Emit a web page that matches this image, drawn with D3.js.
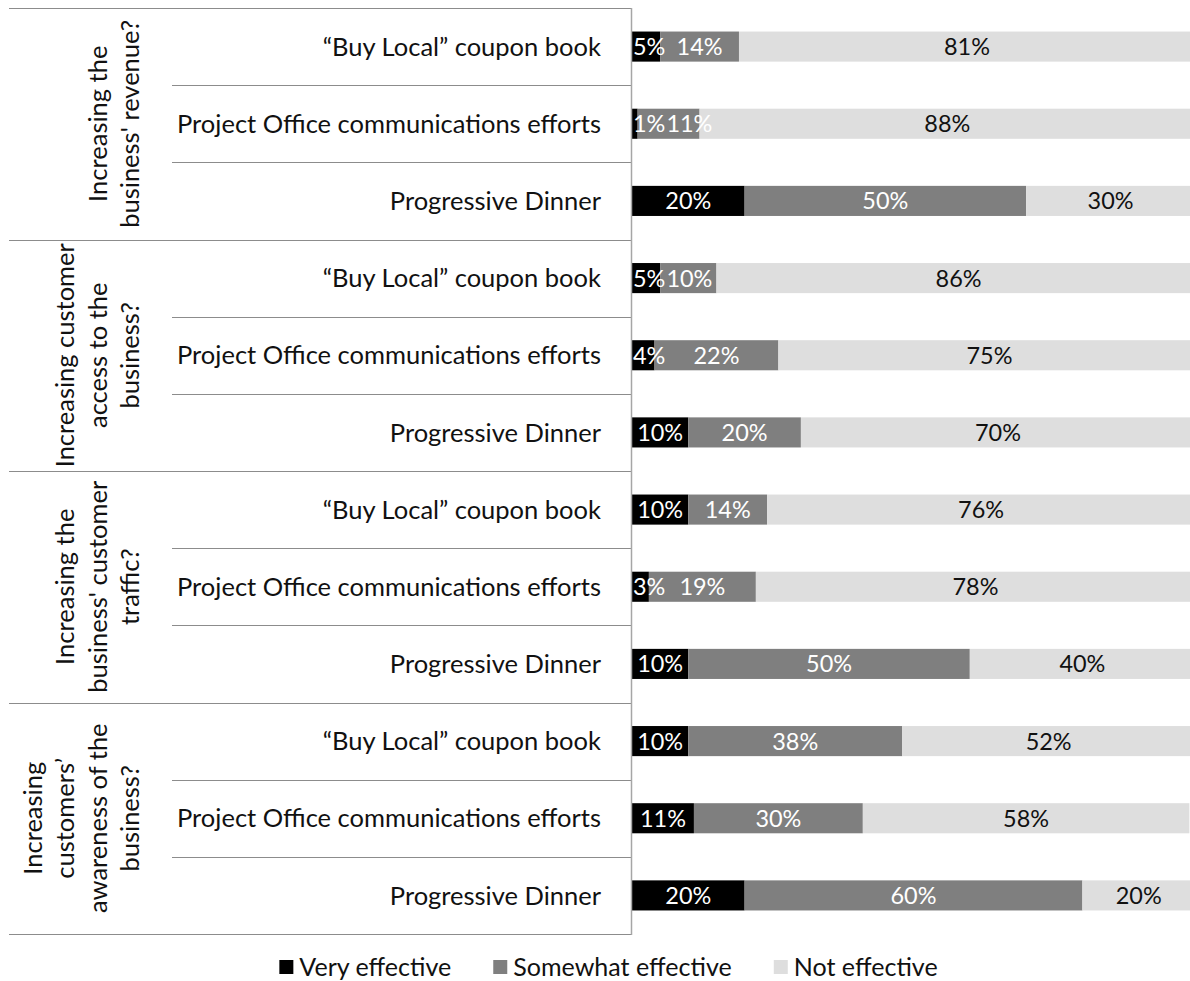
<!DOCTYPE html>
<html>
<head>
<meta charset="utf-8">
<script src="https://cdn.jsdelivr.net/npm/d3@7"></script>
<style>
  html, body { margin: 0; padding: 0; background: #fff; }
  svg { display: block; }
  text { font-family: Lato, "Noto Sans", sans-serif; }
</style>
</head>
<body>
<svg id="chart" width="1190" height="981"></svg>
<script>
// ---- Data ----
const groups = [
  ["Increasing the", "business' revenue?"],
  ["Increasing customer", "access to the", "business?"],
  ["Increasing the", "business' customer", "traffic?"],
  ["Increasing", "customers\u2019", "awareness of the", "business?"]
];
const items = ["\u201cBuy Local\u201d coupon book", "Project Office communications efforts", "Progressive Dinner"];
const seriesNames = ["Very effective", "Somewhat effective", "Not effective"];
const seriesColors = ["#000000", "#7f7f7f", "#dedede"];
const labelColors = ["#ffffff", "#ffffff", "#111111"];
// values per group, per item: [very, somewhat, not]
const veryEffective = [
  [5, 1, 20],
  [5, 4, 10],
  [10, 3, 10],
  [10, 11, 20]
];
const somewhatEffective = [
  [14, 11, 50],
  [10, 22, 20],
  [14, 19, 50],
  [38, 30, 60]
];
const notEffective = [
  [81, 88, 30],
  [86, 75, 70],
  [76, 78, 40],
  [52, 58, 20]
];

// ---- Build rows ----
const rows = [];
groups.forEach((g, gi) => {
  items.forEach((it, ii) => {
    rows.push({
      id: gi + "-" + ii, group: gi, item: it,
      vals: [veryEffective[gi][ii], somewhatEffective[gi][ii], notEffective[gi][ii]]
    });
  });
});

const svg = d3.select("#chart");

// ---- font sizing helper: match target widths ----
function fitSize(str, target) {
  const t = svg.append("text").attr("font-size", 100).text(str);
  const w = t.node().getComputedTextLength();
  t.remove();
  return 100 * target / w;
}
const rowFont = fitSize("Project Office communications efforts", 424);
const valFont = fitSize("81%", 46);
const legFont = fitSize("Very effective", 152);

// ---- Layout ----
const plotTop = 8, plotBottom = 934;
const axisX = 631;
const xScale = d3.scaleLinear().domain([0, 100]).range([632, 1195]);
const yScale = d3.scaleBand().domain(rows.map(r => r.id)).range([plotTop, plotBottom])
  .paddingInner(0.61).paddingOuter(0.305);
const step = yScale.step();
const groupH = step * items.length;

// ---- clip ----
svg.append("defs").append("clipPath").attr("id", "plotclip")
  .append("rect").attr("x", 632).attr("y", 0).attr("width", 600).attr("height", 981);

// ---- Stacked bars ----
const stackData = rows.map(r => ({ id: r.id, s0: r.vals[0], s1: r.vals[1], s2: r.vals[2] }));
const stack = d3.stack().keys(["s0", "s1", "s2"]);
const layers = stack(stackData);

const plot = svg.append("g").attr("clip-path", "url(#plotclip)");
layers.forEach((layer, li) => {
  plot.append("g").selectAll("rect").data(layer).join("rect")
    .attr("x", d => xScale(d[0]))
    .attr("y", d => yScale(d.data.id))
    .attr("width", d => xScale(d[1]) - xScale(d[0]))
    .attr("height", yScale.bandwidth())
    .attr("fill", seriesColors[li]);
});

// value labels: centred in segment, kept inside plot and not overlapping the previous label
const labelG = svg.append("g");
rows.forEach((r, ri) => {
  let prevRight = axisX + 1;
  layers.forEach((layer, li) => {
    const d = layer[ri];
    const t = labelG.append("text")
      .attr("y", yScale(r.id) + yScale.bandwidth() / 2)
      .attr("dy", "0.36em")
      .attr("text-anchor", "middle")
      .attr("font-size", valFont)
      .attr("fill", labelColors[li])
      .text((d[1] - d[0]) + "%");
    const w = t.node().getComputedTextLength();
    let cx = (xScale(d[0]) + xScale(d[1])) / 2;
    if (cx - w / 2 < prevRight + 1) cx = prevRight + 1 + w / 2;
    t.attr("x", cx);
    prevRight = cx + w / 2;
  });
});

// ---- Category structure lines ----
const lines = svg.append("g");
d3.range(groups.length + 1).forEach(i => {
  const y = Math.round(plotTop + i * groupH) + 0.5;
  lines.append("line").attr("x1", 9).attr("x2", axisX).attr("y1", y).attr("y2", y)
    .attr("stroke", "#8c8c8c").attr("stroke-width", 1);
});
d3.range(rows.length).forEach(r => {
  if (r % items.length === 0) return;
  const y = Math.round(plotTop + r * step) + 0.5;
  lines.append("line").attr("x1", 172).attr("x2", axisX).attr("y1", y).attr("y2", y)
    .attr("stroke", "#8c8c8c").attr("stroke-width", 1);
});
lines.append("line").attr("x1", axisX + 0.5).attr("x2", axisX + 0.5)
  .attr("y1", plotTop).attr("y2", plotBottom + 1)
  .attr("stroke", "#a6a6a6").attr("stroke-width", 1.5);

// ---- Row labels ----
svg.append("g").selectAll("text").data(rows).join("text")
  .attr("x", 601)
  .attr("y", d => yScale(d.id) + yScale.bandwidth() / 2)
  .attr("dy", "0.36em")
  .attr("text-anchor", "end")
  .attr("font-size", rowFont)
  .attr("fill", "#111")
  .text(d => d.item);

// ---- Group labels (rotated) ----
const lineGap = 32.5;
groups.forEach((g, gi) => {
  const cy = plotTop + gi * groupH + groupH / 2;
  const n = g.length;
  g.forEach((ln, li) => {
    const bx = 139 - (n - 1 - li) * lineGap;
    svg.append("text")
      .attr("transform", `translate(${bx},${cy}) rotate(-90)`)
      .attr("text-anchor", "middle")
      .attr("font-size", rowFont)
      .attr("fill", "#111")
      .text(ln);
  });
});

// ---- Legend ----
const legend = svg.append("g");
const sq = 14, gapSq = 6, gapItem = 42;
const widths = seriesNames.map(s => {
  const t = svg.append("text").attr("font-size", legFont).text(s);
  const w = t.node().getComputedTextLength(); t.remove(); return w;
});
const total = d3.sum(widths) + seriesNames.length * (sq + gapSq) + gapItem * (seriesNames.length - 1);
let lx = 608.5 - total / 2;
const ly = 967;
seriesNames.forEach((s, i) => {
  legend.append("rect").attr("x", lx).attr("y", ly - sq / 2).attr("width", sq).attr("height", sq)
    .attr("fill", seriesColors[i]);
  legend.append("text").attr("x", lx + sq + gapSq).attr("y", ly).attr("dy", "0.36em")
    .attr("font-size", legFont).attr("fill", "#111").text(s);
  lx += sq + gapSq + widths[i] + gapItem;
});
</script>
</body>
</html>
